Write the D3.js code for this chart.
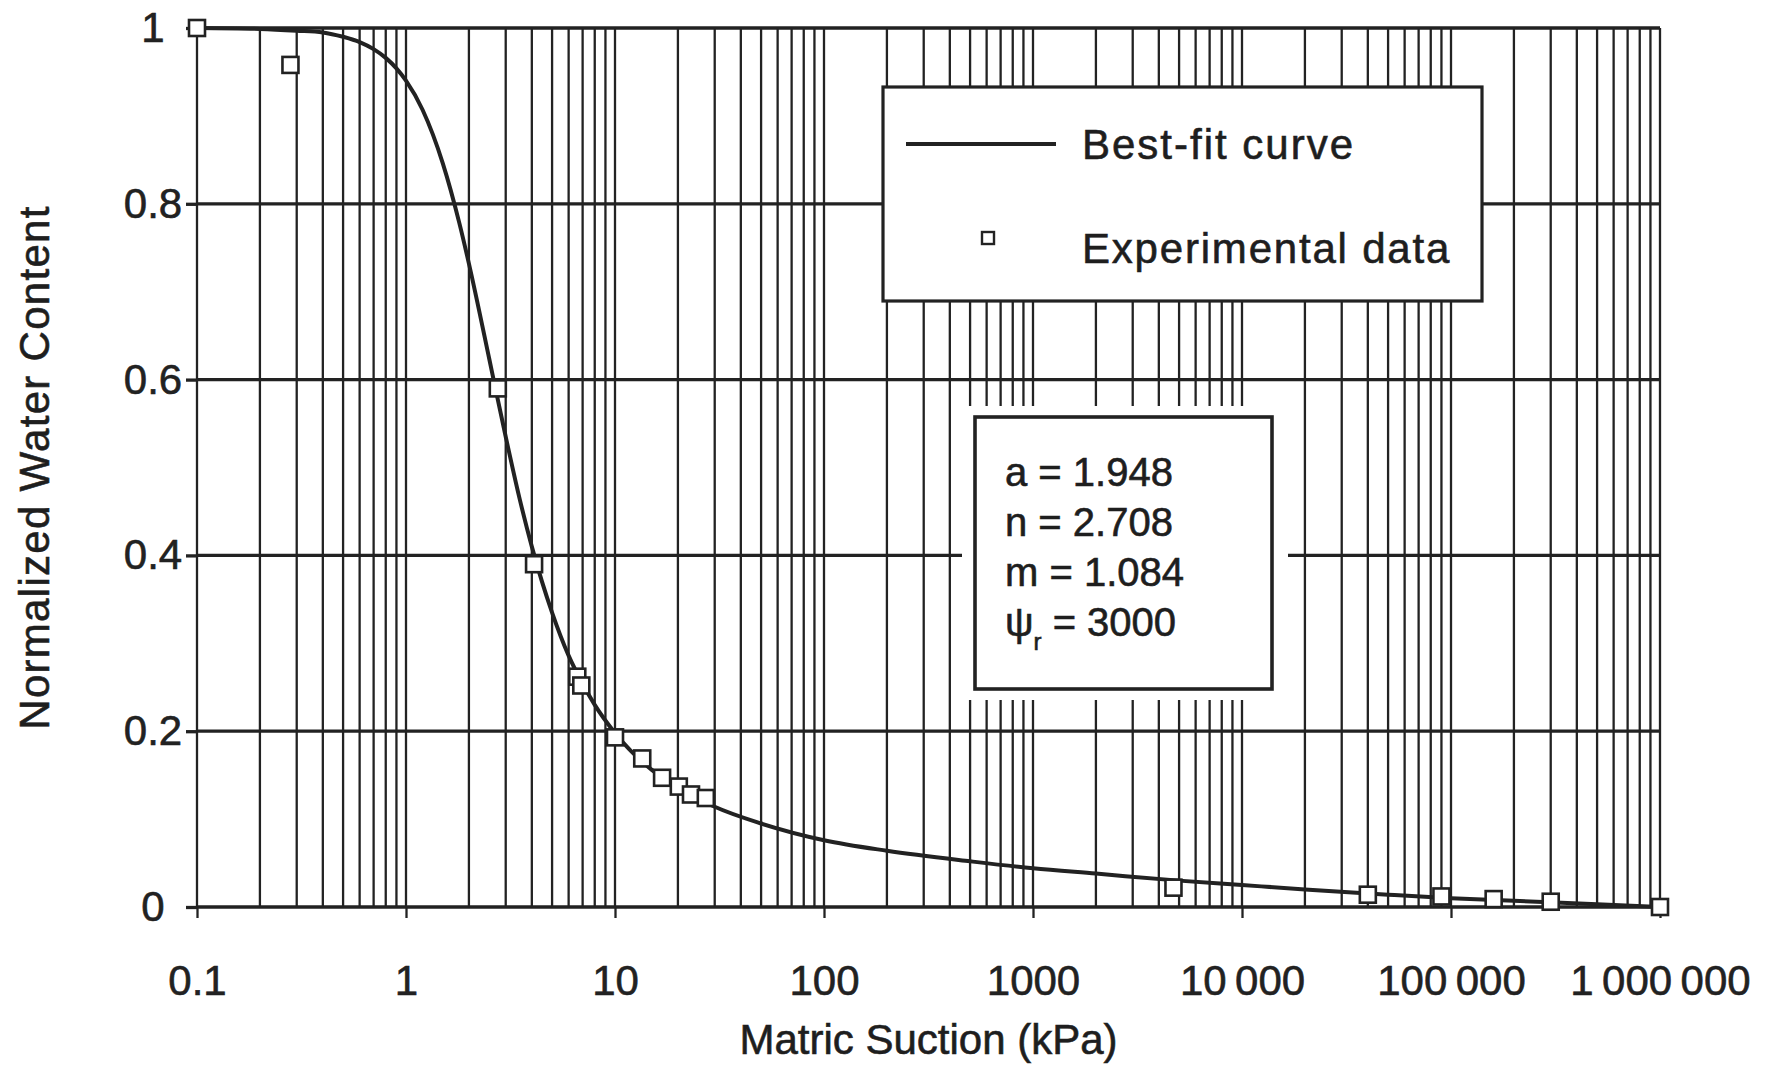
<!DOCTYPE html>
<html>
<head>
<meta charset="utf-8">
<script src="https://cdn.jsdelivr.net/npm/d3@7"></script>
<style>
  body { margin: 0; background: #fff; }
  text { font-family: "Liberation Sans", Arial, Helvetica, sans-serif; fill: #1e1e1e; stroke: #1e1e1e; stroke-width: 0.6px; }
</style>
</head>
<body>
<div id="chart"></div>
<script>
// best-fit curve
const curveSuction = [0.1, 0.2, 0.3, 0.4, 0.5, 0.6, 0.7, 0.8, 0.9, 1, 1.2, 1.5, 1.8, 2, 2.5, 2.7, 3, 3.5, 4, 5, 6, 7, 8, 10, 15, 20, 30, 50, 100, 200, 500, 1000, 2000, 5000, 10000, 20000, 50000, 100000, 200000, 500000, 1000000];
const curveWater   = [1.0, 0.999, 0.997, 0.995, 0.990, 0.984, 0.976, 0.966, 0.954, 0.940, 0.907, 0.846, 0.778, 0.732, 0.624, 0.586, 0.535, 0.464, 0.410, 0.335, 0.286, 0.254, 0.230, 0.198, 0.156, 0.136, 0.114, 0.095, 0.076, 0.064, 0.052, 0.044, 0.038, 0.030, 0.025, 0.020, 0.014, 0.010, 0.007, 0.003, 0.0];

// experimental data (squares)
const expSuction = [0.1, 0.28, 2.75, 4.1, 6.6, 6.9, 10, 13.5, 16.8, 20.2, 23.1, 27.2, 4700, 40000, 90000, 160000, 300000, 1000000];
const expWater   = [1.0, 0.958, 0.59, 0.39, 0.262, 0.252, 0.193, 0.169, 0.147, 0.137, 0.128, 0.124, 0.022, 0.014, 0.012, 0.009, 0.006, 0.0];

const xTickValues = [0.1, 1, 10, 100, 1000, 10000, 100000, 1000000];
const xTickLabels = ["0.1", "1", "10", "100", "1000", "10\u2009000", "100\u2009000", "1\u2009000\u2009000"];
const yTickValues = [0, 0.2, 0.4, 0.6, 0.8, 1];
const yTickLabels = ["0", "0.2", "0.4", "0.6", "0.8", "1"];

const paramNames  = ["a", "n", "m", "\u03C8"];
const paramSubs   = ["", "", "", "r"];
const paramValues = ["1.948", "2.708", "1.084", "3000"];

const width = 1781, height = 1071;
const margin = {top: 28, right: 121, bottom: 164, left: 197};
const ink = "#222";

const svg = d3.select("#chart").append("svg")
    .attr("width", width)
    .attr("height", height);

svg.append("rect")
    .attr("width", width)
    .attr("height", height)
    .attr("fill", "#fff");

const x = d3.scaleLog()
    .domain([0.1, 1000000])
    .range([margin.left, width - margin.right]);

const y = d3.scaleLinear()
    .domain([0, 1])
    .range([height - margin.bottom, margin.top]);

// vertical grid, every 1..9 x 10^k
svg.append("g")
    .selectAll("line")
    .data(x.ticks())
    .enter()
    .append("line")
    .attr("x1", d => x(d))
    .attr("x2", d => x(d))
    .attr("y1", y(0))
    .attr("y2", y(1))
    .style("stroke", ink)
    .style("stroke-width", 2.3);

// horizontal grid
svg.append("g")
    .selectAll("line")
    .data(yTickValues)
    .enter()
    .append("line")
    .attr("x1", x(0.1))
    .attr("x2", x(1000000))
    .attr("y1", d => y(d))
    .attr("y2", d => y(d))
    .style("stroke", ink)
    .style("stroke-width", 3.3);

// axes (ticks + labels only, grid does the lines)
let xAxis = svg.append("g")
    .attr("transform", "translate(0," + y(0) + ")")
    .call(d3.axisBottom(x)
        .tickValues(xTickValues)
        .tickFormat((d, i) => xTickLabels[i])
        .tickSize(11)
        .tickSizeOuter(0)
        .tickPadding(47));
xAxis.select(".domain").remove();
xAxis.selectAll("line").style("stroke", ink).style("stroke-width", 2.3);
xAxis.selectAll("text").style("font-size", "42px").style("fill", ink);

let yAxis = svg.append("g")
    .attr("transform", "translate(" + x(0.1) + ",0)")
    .call(d3.axisLeft(y)
        .tickValues(yTickValues)
        .tickFormat((d, i) => yTickLabels[i])
        .tickSize(11)
        .tickSizeOuter(0));
yAxis.select(".domain").remove();
yAxis.selectAll("line").style("stroke", ink).style("stroke-width", 3.3);
yAxis.selectAll("text")
    .attr("x", -44)
    .attr("text-anchor", "middle")
    .style("font-size", "42px")
    .style("fill", ink);

// axis titles
svg.append("text")
    .attr("x", (x(0.1) + x(1000000)) / 2)
    .attr("y", 1054)
    .attr("text-anchor", "middle")
    .style("font-size", "42px")
    .text("Matric Suction (kPa)");

svg.append("text")
    .attr("transform", "translate(34," + ((y(0) + y(1)) / 2) + ") rotate(-90)")
    .attr("text-anchor", "middle")
    .attr("dy", "0.35em")
    .style("font-size", "42px")
    .style("letter-spacing", "1.3px")
    .text("Normalized Water Content");

// best-fit curve
let curveData = curveSuction.map((s, i) => [s, curveWater[i]]);
let line = d3.line()
    .x(d => x(d[0]))
    .y(d => y(d[1]))
    .curve(d3.curveMonotoneX);

svg.append("path")
    .datum(curveData)
    .attr("d", line)
    .attr("fill", "none")
    .style("stroke", ink)
    .style("stroke-width", 4);

// experimental points
let pts = expSuction.map((s, i) => [s, expWater[i]]);
svg.append("g")
    .selectAll("rect")
    .data(pts)
    .enter()
    .append("rect")
    .attr("x", d => x(d[0]) - 8)
    .attr("y", d => y(d[1]) - 8)
    .attr("width", 16)
    .attr("height", 16)
    .attr("fill", "#fff")
    .style("stroke", ink)
    .style("stroke-width", 2.6);

// legend box
let legend = svg.append("g");
legend.append("rect")
    .attr("x", 883).attr("y", 87)
    .attr("width", 599).attr("height", 214)
    .attr("fill", "#fff")
    .style("stroke", ink)
    .style("stroke-width", 3.2);
legend.append("line")
    .attr("x1", 906).attr("x2", 1056)
    .attr("y1", 144).attr("y2", 144)
    .style("stroke", ink)
    .style("stroke-width", 4);
legend.append("text")
    .attr("x", 1082).attr("y", 159)
    .style("font-size", "42px")
    .style("letter-spacing", "2px")
    .text("Best-fit curve");
legend.append("rect")
    .attr("x", 982).attr("y", 232)
    .attr("width", 12).attr("height", 12)
    .attr("fill", "#fff")
    .style("stroke", ink)
    .style("stroke-width", 2.4);
legend.append("text")
    .attr("x", 1082).attr("y", 263)
    .style("font-size", "42px")
    .style("letter-spacing", "1.8px")
    .text("Experimental data");

// parameter box, with a white margin that cuts the grid around it
let pbox = svg.append("g");
pbox.append("rect")
    .attr("x", 962).attr("y", 406)
    .attr("width", 326).attr("height", 294)
    .attr("fill", "#fff");
pbox.append("rect")
    .attr("x", 975).attr("y", 417)
    .attr("width", 297).attr("height", 272)
    .attr("fill", "#fff")
    .style("stroke", ink)
    .style("stroke-width", 3.6);

let ptext = pbox.selectAll("text.param")
    .data(paramNames)
    .enter()
    .append("text")
    .attr("class", "param")
    .attr("x", 1005)
    .attr("y", (d, i) => 486 + i * 50)
    .style("font-size", "40px");
ptext.append("tspan").text(d => d);
ptext.append("tspan")
    .attr("baseline-shift", "sub")
    .style("font-size", "24px")
    .text((d, i) => paramSubs[i]);
ptext.append("tspan").text((d, i) => " = " + paramValues[i]);
</script>
</body>
</html>
